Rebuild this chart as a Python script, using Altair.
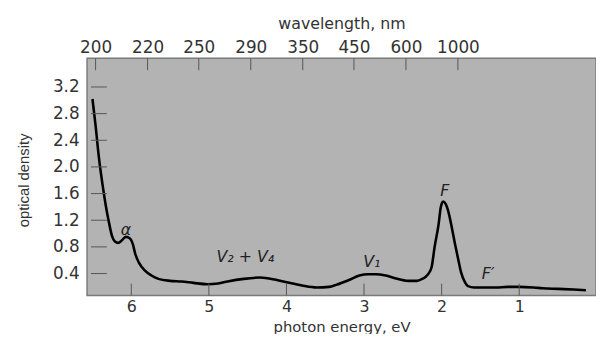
import altair as alt
import pandas as pd

# photon energy (eV) and optical density
energy = [6.50, 6.46, 6.42, 6.37, 6.33, 6.29, 6.25, 6.21, 6.17, 6.12, 6.07, 6.02,
          5.98, 5.95, 5.90, 5.82, 5.74, 5.65, 5.50, 5.35, 5.20, 5.02, 4.88, 4.76,
          4.55, 4.34, 4.15, 4.00, 3.80, 3.61, 3.45, 3.36, 3.20, 3.06, 2.95, 2.85,
          2.72, 2.60, 2.43, 2.32, 2.25, 2.18, 2.13, 2.09, 2.04, 2.01, 1.98, 1.95,
          1.92, 1.87, 1.83, 1.78, 1.75, 1.70, 1.66, 1.58, 1.49, 1.30, 1.15, 1.00,
          0.81, 0.70, 0.50, 0.30, 0.14]
density = [3.02, 2.62, 2.17, 1.73, 1.43, 1.18, 0.97, 0.88, 0.86, 0.90, 0.95, 0.93,
           0.84, 0.70, 0.56, 0.44, 0.37, 0.32, 0.29, 0.28, 0.26, 0.24, 0.25, 0.28,
           0.32, 0.34, 0.31, 0.27, 0.22, 0.19, 0.20, 0.23, 0.30, 0.37, 0.39, 0.39,
           0.37, 0.33, 0.29, 0.29, 0.32, 0.38, 0.49, 0.80, 1.13, 1.40, 1.48, 1.45,
           1.36, 1.10, 0.86, 0.58, 0.42, 0.27, 0.21, 0.19, 0.19, 0.19, 0.20, 0.20,
           0.19, 0.18, 0.17, 0.16, 0.15]

y_ticks = [0.4, 0.8, 1.2, 1.6, 2.0, 2.4, 2.8, 3.2]
x_ticks = [6, 5, 4, 3, 2, 1]
wl_pos = [6.46, 5.79, 5.13, 4.46, 3.79, 3.13, 2.46, 1.79]
wl_labels = ["200", "220", "250", "290", "350", "450", "600", "1000"]

ann_text = ["α", "V₂ + V₄", "V₁", "F", "F′"]
ann_e = [6.07, 4.53, 2.90, 1.96, 1.40]
ann_od = [1.06, 0.64, 0.57, 1.64, 0.39]

FONT = "DejaVu Sans"
TXT = "#333333"

curve = pd.DataFrame({"e": energy, "od": density})
yt = pd.DataFrame({"v": y_ticks})
xt = pd.DataFrame({"e": x_ticks})
wt = pd.DataFrame({"e": wl_pos, "lab": wl_labels})
ann = pd.DataFrame({"t": ann_text, "e": ann_e, "od": ann_od})

xscale = alt.Scale(domain=[0.01, 6.57], reverse=True, nice=False, zero=False)
yscale = alt.Scale(domain=[0.07, 3.63], nice=False, zero=False)

# label expression for the top (wavelength) axis
expr = "''"
for p, l in zip(wl_pos, wl_labels):
    expr = f"abs(datum.value - {p}) < 0.05 ? '{l}' : " + expr

line = alt.Chart(curve).mark_line(color="black", strokeWidth=2.6, interpolate="monotone").encode(
    x=alt.X("e:Q", scale=xscale,
            axis=alt.Axis(orient="bottom", values=x_ticks, format="d", ticks=False, domain=False,
                          grid=False, labelPadding=11, labelBaseline="middle", labelFontSize=16,
                          title="photon energy, eV", titleY=31, titleBaseline="middle",
                          titleFontSize=15)),
    y=alt.Y("od:Q", scale=yscale,
            axis=alt.Axis(values=y_ticks, format=".1f", ticks=False, domain=False, grid=False,
                          labelPadding=8, title="optical density", titleX=-64, titleY=123,
                          titleBaseline="middle", titleAngle=-90,
                          titleFont="Liberation Sans", titleFontSize=15)),
)

top_ticks = alt.Chart(wt).mark_rule(color="#555", strokeWidth=1).encode(
    x=alt.X("e:Q", scale=xscale,
            axis=alt.Axis(orient="top", values=wl_pos, labelExpr=expr, ticks=False, domain=False,
                          grid=False, labelPadding=11, labelBaseline="middle",
                          title="wavelength, nm", titleY=-35, titleBaseline="middle")),
    y=alt.value(0), y2=alt.value(12),
)

bottom_ticks = alt.Chart(xt).mark_rule(color="#555", strokeWidth=1).encode(
    x=alt.X("e:Q", scale=xscale, axis=None),
    y=alt.value(228), y2=alt.value(240),
)

left_ticks = alt.Chart(yt).mark_rule(color="#555", strokeWidth=1).encode(
    y=alt.Y("v:Q", scale=yscale, axis=None),
    x=alt.value(4), x2=alt.value(20),
)

labels = alt.Chart(ann).mark_text(font=FONT, fontSize=16, fontStyle="italic", color="#222").encode(
    x=alt.X("e:Q", scale=xscale, axis=None),
    y=alt.Y("od:Q", scale=yscale, axis=None),
    text="t:N",
)

chart = alt.layer(line, top_ticks, bottom_ticks, left_ticks, labels).resolve_axis(
    x="independent", y="independent"
).properties(
    width=515, height=240,
    autosize=alt.AutoSizeParams(type="none"),
    padding={"left": 80, "top": 49, "right": 0, "bottom": 37},
    background="white",
).configure_view(
    fill="#b3b3b3", stroke="#7a7a7a", strokeWidth=1.5,
).configure_axis(
    labelFont=FONT, labelFontSize=17, labelColor=TXT,
    titleFont=FONT, titleFontSize=16, titleColor=TXT, titleFontWeight="normal",
)

chart.save("out.html", embed_options={"renderer": "svg", "actions": False})
